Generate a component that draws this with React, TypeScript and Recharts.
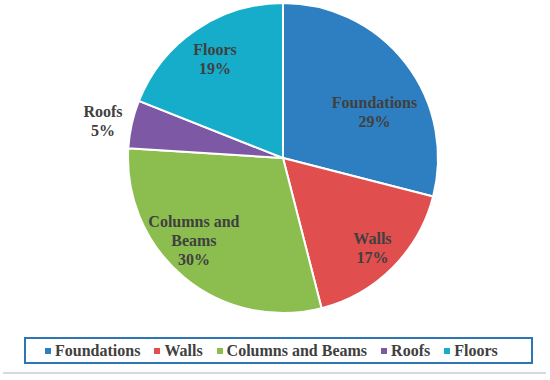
import React from 'react';
import { PieChart, Pie, Cell, Legend } from 'recharts';

const categories = ['Foundations', 'Walls', 'Columns and Beams', 'Roofs', 'Floors'];
const shares = [29, 17, 30, 5, 19];
const colors = ['#2E7FC1', '#E04E4E', '#8CBE4F', '#7D58A5', '#15ADC9'];
// labels as Excel wraps them inside the slices
const labelLines = [['Foundations'], ['Walls'], ['Columns and', 'Beams'], ['Roofs'], ['Floors']];
// Excel "best fit" pulls some labels off the mid angle a little
const labelNudge = [[-4, 28], [4, 4], [-12, -11], [0, 3], [0, 0]];

const data = categories.map((name, i) => ({ name, value: shares[i] }));

const FONT = '"Liberation Serif", "Times New Roman", serif';
const RAD = Math.PI / 180;

const renderLabel = (props: any) => {
  const { cx, cy, midAngle, outerRadius, index, percent } = props;
  // small slices get their label outside
  const r = percent < 0.1 ? outerRadius * 1.19 : outerRadius * 0.78;
  const x = cx + r * Math.cos(-midAngle * RAD) + labelNudge[index][0];
  const y = cy + r * Math.sin(-midAngle * RAD) + labelNudge[index][1];
  const lines = [...labelLines[index], `${shares[index]}%`];
  const lh = 19;
  const y0 = y - ((lines.length - 1) * lh) / 2;
  return (
    <text
      x={x}
      y={y0}
      textAnchor="middle"
      dominantBaseline="central"
      fill="#404040"
      fontFamily={FONT}
      fontWeight="bold"
      fontSize={16}
    >
      {lines.map((t, k) => (
        <tspan key={k} x={x} y={y0 + k * lh}>
          {t}
        </tspan>
      ))}
    </text>
  );
};

const LegendBox = () => (
  <div
    style={{
      width: 509,
      height: 27,
      boxSizing: 'border-box',
      border: '2px solid #2E75B6',
      display: 'flex',
      alignItems: 'center',
      paddingLeft: 19,
      fontFamily: FONT,
      fontWeight: 'bold',
      fontSize: 16,
      color: '#404040',
    }}
  >
    {categories.map((c, i) => (
      <div key={c} style={{ display: 'flex', alignItems: 'center', marginRight: 14 }}>
        <span style={{ width: 6, height: 6, background: colors[i], marginRight: 4, display: 'inline-block' }} />
        <span>{c}</span>
      </div>
    ))}
  </div>
);

export default function App() {
  return (
    <div style={{ position: 'absolute', left: 0, top: 0, width: 550, height: 380, background: '#fff' }}>
      <PieChart width={550} height={380} margin={{ top: 0, right: 0, bottom: 0, left: 0 }}>
        <Pie
          data={data}
          dataKey="value"
          nameKey="name"
          cx={283}
          cy={158}
          outerRadius={155}
          startAngle={90}
          endAngle={-270}
          stroke="#ffffff"
          strokeWidth={2}
          label={renderLabel}
          labelLine={false}
          isAnimationActive={false}
        >
          {data.map((d, i) => (
            <Cell key={d.name} fill={colors[i]} />
          ))}
        </Pie>
        <Legend
          content={() => <LegendBox />}
          wrapperStyle={{ position: 'absolute', left: 24, top: 337, width: 509, height: 27 }}
        />
      </PieChart>
      <div style={{ position: 'absolute', left: 3, top: 372, width: 543, height: 2, background: '#D9D9D9' }} />
    </div>
  );
}
